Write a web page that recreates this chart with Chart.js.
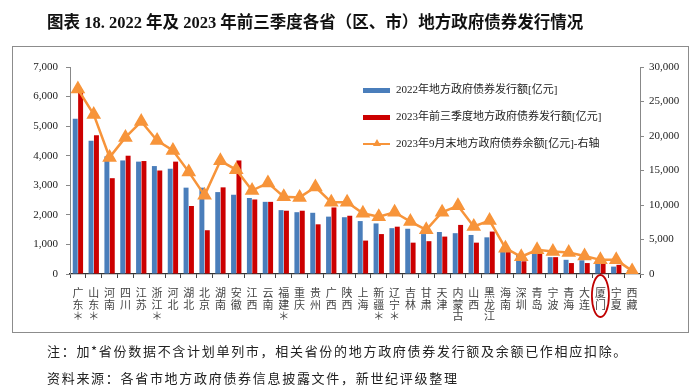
<!DOCTYPE html>
<html>
<head>
<meta charset="utf-8">
<script src="https://cdn.jsdelivr.net/npm/chart.js@4.4.0/dist/chart.umd.min.js"></script>
<style>
  body { margin: 0; background: #fff; }
  #wrap { position: relative; width: 700px; height: 389px; overflow: hidden; }
  #chart { position: absolute; left: 0; top: 0; }
  .ov { position: absolute; pointer-events: none; white-space: nowrap; color: #111; }
  #title { left: 47px; top: 9px; font: bold 16.5px "Liberation Serif", "Noto Sans CJK SC"; }
  #frame { left: 12px; top: 46px; width: 675px; height: 285px; border: 1px solid #8c8c8c; }
  .lg { left: 363px; font: 11px "Liberation Serif", "Noto Sans CJK SC"; color: #222; }
  .sw { display: inline-block; width: 27px; height: 5px; vertical-align: middle; margin-right: 6px; position: relative; }
  .note { left: 47px; font: 13px "Noto Sans CJK SC"; letter-spacing: 1.7px; color: #222; }
</style>
</head>
<body>
<div id="wrap">
  <canvas id="chart" width="700" height="389"></canvas>
  <div class="ov" id="frame"></div>
  <div class="ov" id="title">图表 18. 2022 年及 2023 年前三季度各省（区、市）地方政府债券发行情况</div>
  <div class="ov lg" style="top:80px"><span class="sw" style="background:#4a7ebb"></span>2022年地方政府债券发行额[亿元]</div>
  <div class="ov lg" style="top:107px"><span class="sw" style="background:#cc0000"></span>2023年前三季度地方政府债券发行额[亿元]</div>
  <div class="ov lg" style="top:134px"><span class="sw" style="height:2px;background:#f7943a"><span style="position:absolute;left:10px;top:-4px;width:0;height:0;border-left:4px solid transparent;border-right:4px solid transparent;border-bottom:7px solid #f7943a"></span></span>2023年9月末地方政府债券余额[亿元]-右轴</div>
  <div class="ov note" style="top:341px">注：加*省份数据不含计划单列市，相关省份的地方政府债券发行额及余额已作相应扣除。</div>
  <div class="ov note" style="top:368px">资料来源：各省市地方政府债券信息披露文件，新世纪评级整理</div>
</div>
<script>
const provinces = ['广东*', '山东*', '河南', '四川', '江苏', '浙江*', '河北', '湖北', '北京', '湖南',
  '安徽', '江西', '云南', '福建*', '重庆', '贵州', '广西', '陕西', '上海', '新疆*',
  '辽宁*', '吉林', '甘肃', '天津', '内蒙古', '山西', '黑龙江', '海南', '深圳', '青岛',
  '宁波', '青海', '大连', '厦门', '宁夏', '西藏'];

const issue2022 = [5250, 4510, 3980, 3840, 3800, 3650, 3560, 2920, 2920, 2770,
  2680, 2570, 2440, 2160, 2090, 2070, 1940, 1920, 1790, 1710,
  1550, 1530, 1350, 1420, 1380, 1320, 1240, 770, 670, 690,
  570, 480, 465, 340, 250, 125];

const issue2023 = [6150, 4690, 3240, 4000, 3820, 3500, 3800, 2300, 1480, 2930,
  3840, 2520, 2440, 2140, 2140, 1680, 2250, 1970, 1130, 1350,
  1600, 1060, 1110, 1265, 1660, 1060, 1435, 760, 430, 730,
  570, 370, 370, 340, 310, 60];

const balance = [26800, 23100, 16900, 19800, 22100, 19350, 17900, 14800, 11400, 16400,
  15100, 12100, 13200, 11200, 11100, 12600, 10400, 10400, 8800, 8300,
  8950, 7600, 6400, 8950, 9900, 6900, 7750, 3750, 2500, 3500,
  3250, 3100, 2600, 2050, 2050, 450];

const leftTicks = [0, 7000, 1000];
const rightTicks = [0, 30000, 5000];

// vertical labels: one character per line, asterisk on its own line
const xLabels = provinces.map(p => {
  const chars = p.replace('*', '').split('');
  if (p.includes('*')) chars.push('＊');
  return chars;
});

const markIndex = provinces.indexOf('厦门');

const ellipsePlugin = {
  id: 'ellipse',
  afterDraw(chart) {
    const c = chart.ctx;
    const x = chart.scales.x.getPixelForValue(markIndex);
    const y = chart.chartArea.bottom + 22;
    c.save();
    c.strokeStyle = '#c00000';
    c.lineWidth = 1.8;
    c.beginPath();
    c.ellipse(x, y, 8.5, 21, 0, 0, Math.PI * 2);
    c.stroke();
    c.restore();
  }
};

const serif = { family: '"Liberation Serif", "Noto Sans CJK SC"', size: 11 };

new Chart(document.getElementById('chart'), {
  type: 'bar',
  data: {
    labels: xLabels,
    datasets: [{
      type: 'line',
      label: '2023年9月末地方政府债券余额[亿元]-右轴',
      data: balance,
      yAxisID: 'y1',
      borderColor: '#f7943a',
      backgroundColor: '#f7943a',
      borderWidth: 2.5,
      pointStyle: 'triangle',
      pointRadius: 6,
      pointHoverRadius: 6,
      tension: 0,
      order: 0
    }, {
      label: '2022年地方政府债券发行额[亿元]',
      data: issue2022,
      backgroundColor: '#4a7ebb',
      yAxisID: 'y',
      barPercentage: 0.92,
      categoryPercentage: 0.68,
      order: 1
    }, {
      label: '2023年前三季度地方政府债券发行额[亿元]',
      data: issue2023,
      backgroundColor: '#cc0000',
      yAxisID: 'y',
      barPercentage: 0.92,
      categoryPercentage: 0.68,
      order: 1
    }]
  },
  options: {
    responsive: false,
    animation: false,
    locale: 'en-US',
    layout: { padding: { top: 67, left: 0, right: 0, bottom: 0 } },
    plugins: { legend: { display: false }, tooltip: { enabled: false } },
    scales: {
      x: {
        afterFit: s => { s.height = 115; },
        grid: { drawOnChartArea: false, tickLength: 4, color: '#444', offset: true },
        border: { color: '#333', width: 1.2 },
        ticks: {
          autoSkip: false, maxRotation: 0, padding: 9, color: '#444',
          font: { family: '"Noto Sans CJK SC"', size: 11, lineHeight: 1.05 }
        }
      },
      y: {
        position: 'left',
        min: leftTicks[0], max: leftTicks[1],
        afterFit: s => { s.width = 70; },
        grid: { drawOnChartArea: false, tickLength: 4, color: '#888' },
        border: { color: '#888' },
        ticks: { stepSize: leftTicks[2], padding: 8, color: '#222', font: serif }
      },
      y1: {
        position: 'right',
        min: rightTicks[0], max: rightTicks[1],
        afterFit: s => { s.width = 60; },
        grid: { drawOnChartArea: false, tickLength: 4, color: '#888' },
        border: { color: '#888' },
        ticks: { stepSize: rightTicks[2], padding: 5, color: '#222', font: serif }
      }
    }
  },
  plugins: [ellipsePlugin]
});
</script>
</body>
</html>
